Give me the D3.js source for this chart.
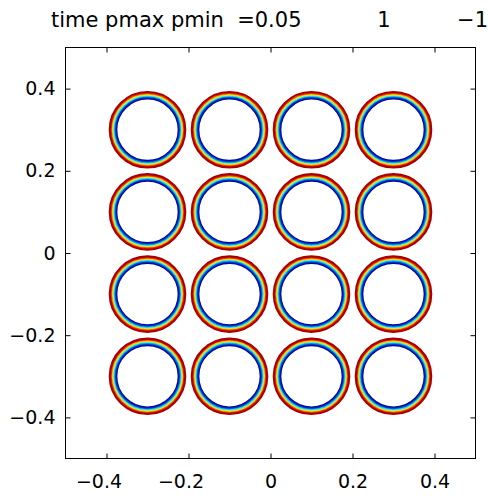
<!DOCTYPE html>
<html>
<head>
<meta charset="utf-8">
<script src="https://cdn.jsdelivr.net/npm/d3@7"></script>
<style>
  body { margin: 0; background: #fff; }
  svg { display: block; }
</style>
</head>
<body>
<div id="vis"></div>
<script>
//frame
const FRAME_WIDTH = 488;
const FRAME_HEIGHT = 498;
const MARGINS = {left: 65.5, right: 12.5, top: 47.5, bottom: 39.5};

//data
const CENTERS_X = [-0.3, -0.1, 0.1, 0.3];
const CENTERS_Y = [0.3, 0.1, -0.1, -0.3];
const LEVEL_RADII = [0.0762, 0.0785, 0.081, 0.083, 0.085, 0.087, 0.089, 0.092];
const LEVEL_COLORS = ["#000c90", "#0030d0", "#0090ff", "#30e8d8", "#b0ff50", "#ffc000", "#ff3000", "#a80000"];
const X_TICKS = [-0.4, -0.2, 0, 0.2, 0.4];
const Y_TICKS = [-0.4, -0.2, 0, 0.2, 0.4];
const TITLE_PARTS = [
  {text: "time pmax pmin  =0.05", x: 51, anchor: "start"},
  {text: "1", x: 384, anchor: "middle"},
  {text: "\u22121", x: 488, anchor: "end"}
];

const FRAME = d3.select("#vis")
  .append("svg")
  .attr("width", FRAME_WIDTH)
  .attr("height", FRAME_HEIGHT);

const X_SCALE = d3.scaleLinear()
  .domain([-0.5, 0.5])
  .range([MARGINS.left, FRAME_WIDTH - MARGINS.right]);

const Y_SCALE = d3.scaleLinear()
  .domain([-0.5, 0.5])
  .range([FRAME_HEIGHT - MARGINS.bottom, MARGINS.top]);

//one record per drop and contour level
const rings = [];
CENTERS_Y.forEach((cy) => {
  CENTERS_X.forEach((cx) => {
    LEVEL_RADII.forEach((r, i) => {
      rings.push({cx: cx, cy: cy, r: r, level: i, color: LEVEL_COLORS[i]});
    });
  });
});

FRAME.append("g")
  .selectAll("circle")
  .data(rings)
  .enter()
  .append("circle")
  .attr("cx", (d) => X_SCALE(d.cx))
  .attr("cy", (d) => Y_SCALE(d.cy))
  .attr("r", (d) => X_SCALE(d.r) - X_SCALE(0))
  .attr("fill", "none")
  .attr("stroke", (d) => d.color)
  .attr("stroke-width", (d) => (d.level === 0 || d.level === 7) ? 2.2 : 1.6);

//box
FRAME.append("rect")
  .attr("x", X_SCALE(-0.5))
  .attr("y", Y_SCALE(0.5))
  .attr("width", X_SCALE(0.5) - X_SCALE(-0.5))
  .attr("height", Y_SCALE(-0.5) - Y_SCALE(0.5))
  .attr("fill", "none")
  .attr("stroke", "#000")
  .attr("stroke-width", 1);

const fmt = (d) => d === 0 ? "0" : d3.format(".1f")(d).replace("-", "\u2212");

//axes, ticks pointing inward on all four sides
const xBottom = FRAME.append("g")
  .attr("transform", "translate(0," + Y_SCALE(-0.5) + ")")
  .call(d3.axisBottom(X_SCALE).tickValues(X_TICKS).tickFormat(fmt).tickSizeInner(-5).tickSizeOuter(0).tickPadding(16));

const yLeft = FRAME.append("g")
  .attr("transform", "translate(" + X_SCALE(-0.5) + ",0)")
  .call(d3.axisLeft(Y_SCALE).tickValues(Y_TICKS).tickFormat(fmt).tickSizeInner(-5).tickSizeOuter(0).tickPadding(10));

FRAME.append("g")
  .attr("transform", "translate(0," + Y_SCALE(0.5) + ")")
  .call(d3.axisTop(X_SCALE).tickValues(X_TICKS).tickFormat("").tickSizeInner(-5).tickSizeOuter(0));

FRAME.append("g")
  .attr("transform", "translate(" + X_SCALE(0.5) + ",0)")
  .call(d3.axisRight(Y_SCALE).tickValues(Y_TICKS).tickFormat("").tickSizeInner(-5).tickSizeOuter(0));

FRAME.selectAll(".domain").remove();
FRAME.selectAll(".tick line").attr("stroke", "#000");

[xBottom, yLeft].forEach((g) => {
  g.attr("font-family", "'DejaVu Sans', sans-serif")
    .attr("font-size", "19px");
  g.selectAll("text").attr("fill", "#000");
});

//number centred on the tick, minus sign hanging to the left
xBottom.selectAll(".tick text")
  .attr("dx", (d) => d < 0 ? -8 : 0);

//title
FRAME.append("g")
  .selectAll("text")
  .data(TITLE_PARTS)
  .enter()
  .append("text")
  .attr("x", (d) => d.x)
  .attr("y", 27)
  .attr("text-anchor", (d) => d.anchor)
  .attr("font-family", "'DejaVu Sans', sans-serif")
  .attr("font-size", "21px")
  .attr("fill", "#000")
  .style("white-space", "pre")
  .text((d) => d.text);
</script>
</body>
</html>
